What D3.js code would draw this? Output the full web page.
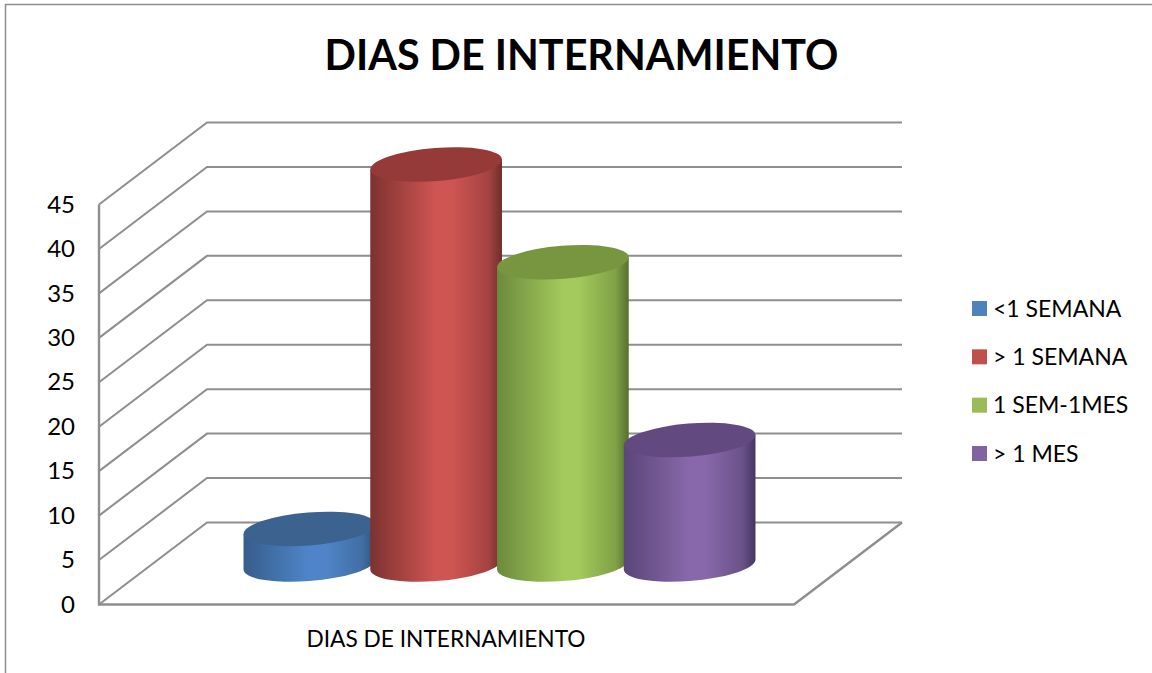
<!DOCTYPE html>
<html><head><meta charset="utf-8">
<script src="https://cdn.jsdelivr.net/npm/d3@7"></script>
<style>html,body{margin:0;padding:0;background:#fff}svg{display:block}text{font-family:Lato,"Noto Sans",sans-serif;fill:#000}</style>
</head><body><svg id="c" width="1152" height="673"></svg>
<script>
const chartTitle = "DIAS DE INTERNAMIENTO";
const categoryLabel = "DIAS DE INTERNAMIENTO";
const seriesNames = ["<1 SEMANA", "> 1 SEMANA", "1 SEM-1MES", "> 1 MES"];
const seriesValues = [4, 45, 34, 14];
const tickValues = [0, 5, 10, 15, 20, 25, 30, 35, 40, 45];
const sideLight = ["#4f81bd", "#c0504d", "#9bbb59", "#8064a2"];
const sideColors = [["#365d8c","#4f85c8","#2f5279"],["#7c3230","#cf5552","#6f2e2c"],["#6c8a3c","#a4c95c","#55702c"],["#5a4677","#8868ab","#453660"]];
const topColors = ["#3c628f", "#953a38", "#78953f", "#624a80"];

const W = 1152, H = 673;
const svg = d3.select("#c");
const y = d3.scaleLinear().domain([0, 45]).range([604.5, 204.5]);
const x = d3.scaleBand().domain(seriesNames).range([246, 753]);
const depth = {dx: 108, dy: -82};
const plotLeft = 99, plotRight = 794;
const grid = "#8e8e8e";

// frame
svg.append("path").attr("d", `M5.5 ${H}V4.5H${W}`).attr("fill", "none").attr("stroke", "#8e8e8e").attr("stroke-width", 1.5);

// walls and gridlines
const g = svg.append("g").attr("fill", "none").attr("stroke", grid);
g.selectAll("path.grid").data(tickValues).join("path").attr("class", "grid")
  .attr("stroke-width", 2)
  .attr("d", d => `M${plotLeft} ${y(d)}L${plotLeft + depth.dx} ${y(d) + depth.dy}H${plotRight + depth.dx}`);
g.append("path").attr("stroke-width", 2.4)
  .attr("d", `M${plotLeft} ${y(45)}V${y(0)}H${plotRight}L${plotRight + depth.dx} ${y(0) + depth.dy}`);

// axis labels
const axis = d3.axisLeft(y).tickValues(tickValues).tickSize(0).tickPadding(0);
const ag = svg.append("g").attr("transform", "translate(75,0)").call(axis);
ag.select(".domain").remove();
ag.selectAll("text").attr("font-size", 24).attr("font-family", "Lato").attr("fill", "#000");

// defs
const defs = svg.append("defs");
seriesNames.forEach((s, i) => {
  const lg = defs.append("linearGradient").attr("id", "g" + i);
  lg.append("stop").attr("offset", "0%").attr("stop-color", sideColors[i][0]);
  lg.append("stop").attr("offset", "50%").attr("stop-color", sideColors[i][1]);
  lg.append("stop").attr("offset", "62%").attr("stop-color", sideColors[i][1]);
  lg.append("stop").attr("offset", "90%").attr("stop-color", d3.interpolateRgb(sideColors[i][1], sideColors[i][2])(0.45));
  lg.append("stop").attr("offset", "100%").attr("stop-color", sideColors[i][2]);
});

// cylinders
const rx = 66, ry = 16.5, rot = -4.6, ex = 65.85, ey = 5;
const baseOffset = 40;
const bars = svg.append("g");
seriesNames.forEach((s, i) => {
  const cx = x(s) + x.bandwidth() / 2;
  const yb = y(0) - baseOffset;
  const yt = y(seriesValues[i]) - baseOffset;
  const L = cx - ex, R = cx + ex;
  bars.append("path")
    .attr("fill", `url(#g${i})`)
    .attr("d", `M${L} ${yt + ey}L${L} ${yb + ey}A${rx} ${ry} ${rot} 0 0 ${R} ${yb - ey}L${R} ${yt - ey}Z`);
  bars.append("ellipse")
    .attr("cx", 0).attr("cy", 0).attr("rx", rx).attr("ry", ry)
    .attr("transform", `translate(${cx},${yt}) rotate(${rot})`)
    .attr("fill", topColors[i]);
});

// title and category
svg.append("text").attr("x", 581.5).attr("y", 70).attr("text-anchor", "middle")
  .attr("font-size", 41.3).attr("font-weight", 700).text(chartTitle);
svg.append("text").attr("x", 446).attr("y", 647).attr("text-anchor", "middle")
  .attr("font-size", 22.7).text(categoryLabel);

// legend
const leg = d3.scalePoint().domain(seriesNames).range([308.5, 453.5]);
const lgg = svg.append("g").selectAll("g").data(seriesNames).join("g")
  .attr("transform", d => `translate(972,${leg(d)})`);
lgg.append("rect").attr("y", -7.5).attr("width", 15).attr("height", 15).attr("fill", (d, i) => sideLight[i]);
lgg.append("text").attr("x", 21).attr("y", 8).attr("font-size", 23).text(d => d);
</script></body></html>
